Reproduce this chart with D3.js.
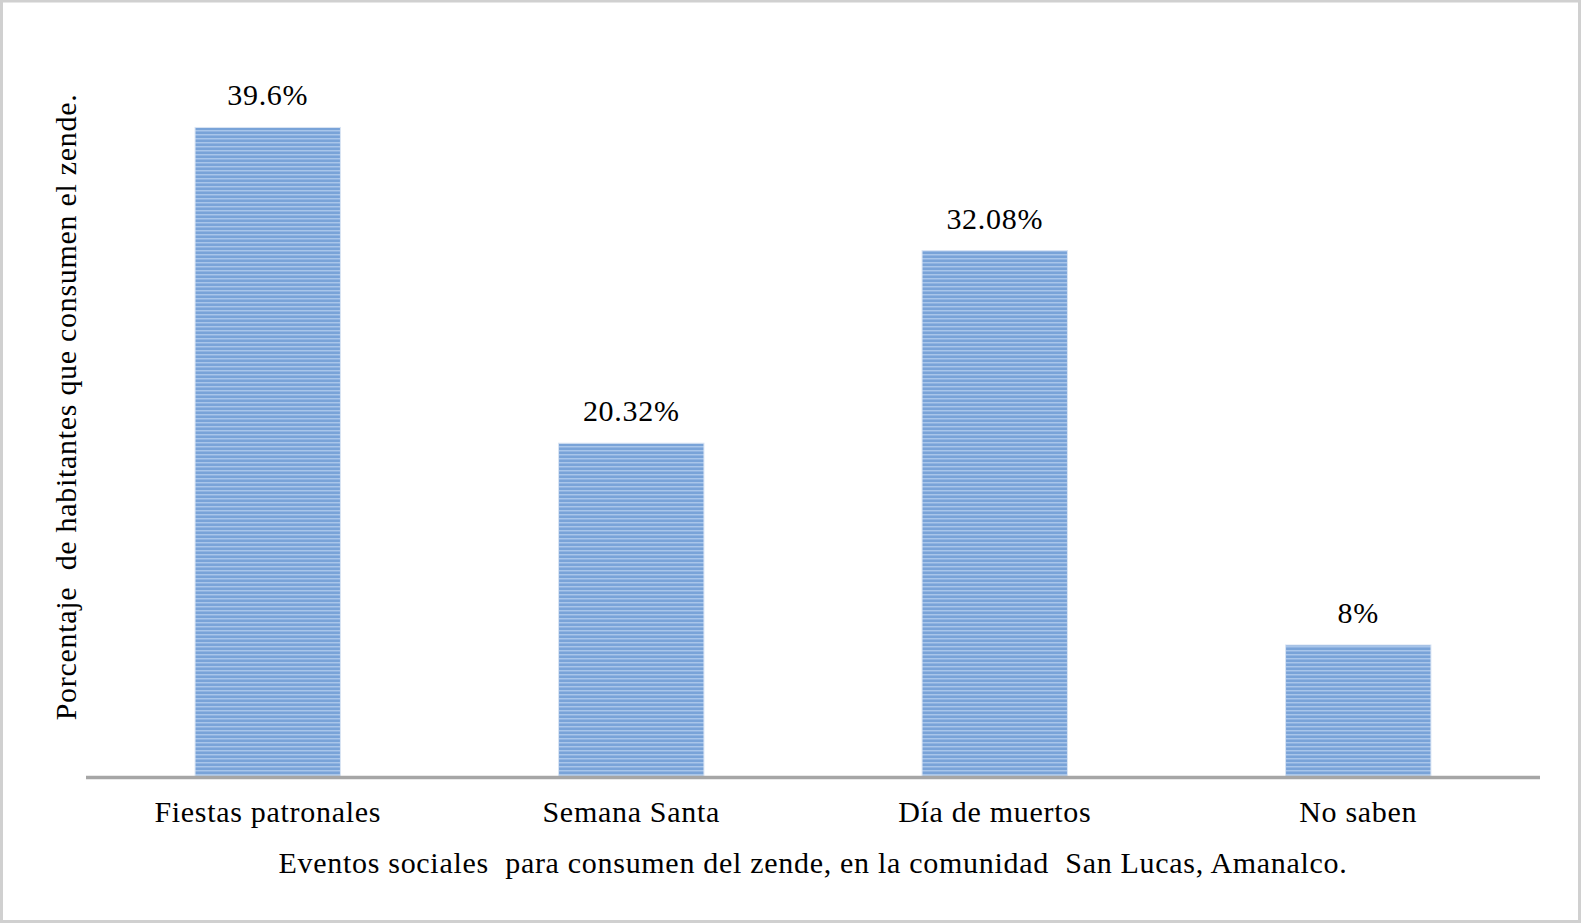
<!DOCTYPE html>
<html><head><meta charset="utf-8">
<script src="https://cdn.jsdelivr.net/npm/d3@7"></script>
<style>
html,body{margin:0;padding:0;background:#fff;}
svg{display:block;}
text{font-family:"Liberation Serif","Times New Roman",serif;fill:#000;letter-spacing:0.7px;}
</style></head>
<body>
<script>
const categories = ["Fiestas patronales","Semana Santa","Día de muertos","No saben"];
const values = [39.6, 20.32, 32.08, 8];
const valueLabels = ["39.6%","20.32%","32.08%","8%"];
const xTitle = "Eventos sociales  para consumen del zende, en la comunidad  San Lucas, Amanalco.";
const yTitle = "Porcentaje  de habitantes que consumen el zende.";

const W = 1582, H = 924;
const FS = 30;
const svg = d3.select("body").append("svg").attr("width", W).attr("height", H);

// border
svg.append("rect").attr("x",1.5).attr("y",1).attr("width",W-4).attr("height",H-3.5)
  .attr("fill","#fff").attr("stroke","#d0d0d0").attr("stroke-width",3);

const defs = svg.append("defs");
const pat = defs.append("pattern").attr("id","stripes").attr("patternUnits","userSpaceOnUse")
  .attr("width",8).attr("height",4);
pat.append("rect").attr("width",8).attr("height",4).attr("fill","#79a3d8");
pat.append("rect").attr("y",2).attr("width",8).attr("height",1).attr("fill","#a9c6ea");
pat.append("rect").attr("y",3).attr("width",8).attr("height",1).attr("fill","#90b3e1");

const x = d3.scaleBand().domain(categories).range([86, 1540]).paddingInner(0.6).paddingOuter(0.3);
const y = d3.scaleLinear().domain([0, 45]).range([776, 39]);

svg.selectAll("rect.bar").data(values).join("rect").attr("class","bar")
  .attr("x",(d,i)=>x(categories[i])).attr("width",x.bandwidth())
  .attr("y",d=>y(d)).attr("height",d=>y(0)-y(d))
  .attr("fill","url(#stripes)").attr("stroke","#d9e4f3").attr("stroke-width",1);

// axis line
const xAxis = d3.axisBottom(x).tickSize(0).tickPadding(25);
const gx = svg.append("g").attr("transform",`translate(0,${y(0)})`).call(xAxis);
gx.select(".domain").attr("stroke","#a6a6a6").attr("stroke-width",3.5).attr("d","M86,1.5H1540");
gx.selectAll("text").attr("font-size",FS).attr("fill","#000")
  .style("font-family",'"Liberation Serif","Times New Roman",serif');

svg.selectAll("text.vl").data(values).join("text").attr("class","vl")
  .attr("x",(d,i)=>x(categories[i])+x.bandwidth()/2).attr("y",d=>y(d)-22)
  .attr("text-anchor","middle").attr("font-size",FS).text((d,i)=>valueLabels[i]);

svg.append("text").attr("x",813).attr("y",873).attr("text-anchor","middle")
  .attr("font-size",FS).style("white-space","pre").text(xTitle);

svg.append("text").attr("transform","translate(76,407) rotate(-90)").attr("text-anchor","middle")
  .attr("font-size",FS).style("white-space","pre").text(yTitle);
</script>
</body></html>
